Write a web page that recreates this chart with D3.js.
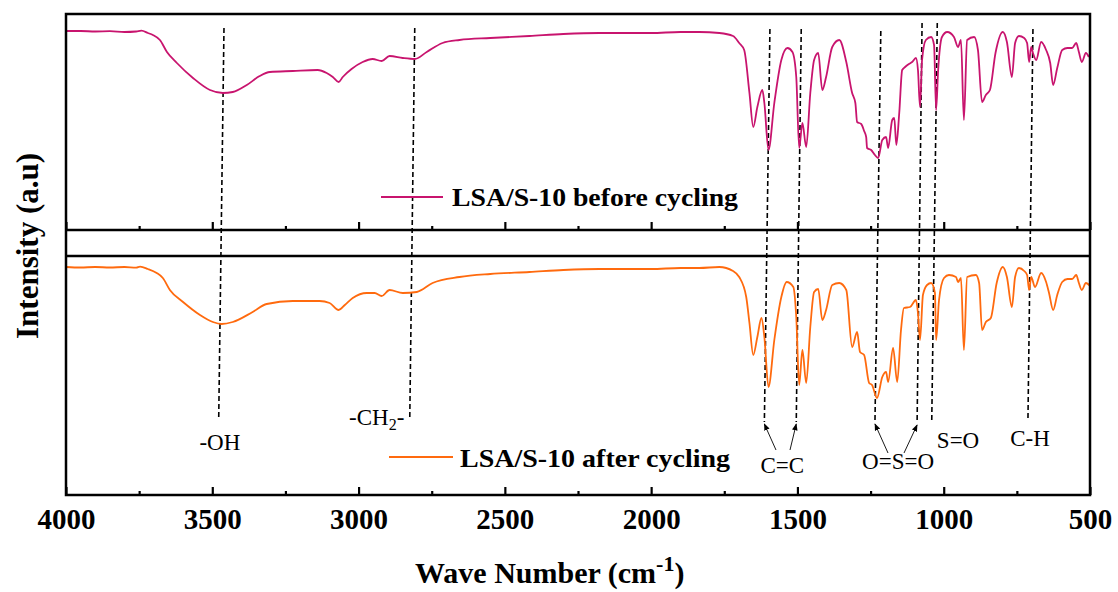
<!DOCTYPE html>
<html>
<head>
<meta charset="utf-8">
<script src="https://cdn.jsdelivr.net/npm/d3@7"></script>
<style>
  body { margin: 0; background: #fff; }
  svg { display: block; font-family: 'Liberation Serif', 'Times New Roman', serif; }
</style>
</head>
<body>
<div id="chart"></div>
<script>
// wavenumber (cm-1) / intensity (a.u.)
const beforeWn = [4000, 3950, 3900, 3850, 3800, 3760, 3742, 3720, 3703, 3679, 3655, 3621, 3566, 3508, 3464, 3430, 3382, 3338, 3303, 3225, 3140, 3109, 3088, 3068, 3054, 3024, 2986, 2952, 2921, 2894, 2849, 2808, 2767, 2713, 2655, 2550, 2416, 2300, 2177, 2000, 1900, 1835, 1767, 1720, 1699, 1682, 1664, 1651, 1637, 1620, 1613, 1599, 1579, 1555, 1534, 1517, 1504, 1494, 1483, 1470, 1456, 1443, 1429, 1415, 1402, 1381, 1357, 1333, 1313, 1302, 1296, 1282, 1272, 1265, 1262, 1248, 1235, 1224, 1210, 1197, 1190, 1176, 1169, 1162, 1152, 1142, 1132, 1119, 1108, 1095, 1088, 1081, 1074, 1061, 1043, 1033, 1026, 1019, 1006, 988, 965, 951, 941, 931, 920, 896, 883, 869, 856, 842, 823, 798, 784, 767, 756, 743, 725, 715, 708, 701, 695, 684, 667, 650, 636, 626, 612, 595, 577, 561, 547, 538, 528, 514, 504];
const beforeVal = [199, 199, 198.5, 198.8, 198, 198.5, 199.3, 197, 195, 190, 178, 167, 152, 140, 137, 138, 145, 154, 158, 159, 160, 157, 153, 148, 153, 161, 168, 171, 169, 174, 172, 171, 178, 187, 190, 192, 194, 196, 197, 197, 198, 198, 197, 194, 187, 180, 137, 103, 123, 140, 127, 80, 127, 170, 182, 178, 153, 82, 107, 83, 137, 170, 177, 140, 153, 183, 190, 168, 137, 127, 108, 106, 99, 93, 82, 80, 75, 72, 90, 93, 82, 110, 112, 85, 117, 160, 163, 166, 168, 172, 160, 123, 170, 190, 193, 185, 120, 160, 193, 198, 193, 183, 190, 110, 190, 193, 180, 128, 135, 140, 177, 198, 188, 153, 187, 194, 192, 187, 168, 183, 177, 170, 188, 180, 167, 145, 162, 180, 182, 182, 187, 178, 168, 177, 173];

const afterWn = [4000, 3950, 3900, 3850, 3800, 3760, 3747, 3720, 3690, 3669, 3645, 3600, 3542, 3498, 3468, 3430, 3362, 3314, 3225, 3133, 3099, 3068, 3047, 3020, 2972, 2945, 2921, 2894, 2849, 2801, 2747, 2655, 2550, 2416, 2300, 2177, 2000, 1900, 1835, 1767, 1720, 1699, 1675, 1664, 1651, 1637, 1623, 1613, 1599, 1579, 1555, 1537, 1514, 1504, 1494, 1483, 1470, 1456, 1443, 1429, 1415, 1402, 1381, 1357, 1333, 1313, 1296, 1286, 1272, 1255, 1245, 1228, 1210, 1197, 1190, 1173, 1159, 1146, 1136, 1115, 1095, 1088, 1081, 1071, 1057, 1043, 1030, 1026, 1016, 999, 982, 958, 951, 941, 931, 920, 890, 879, 869, 856, 839, 819, 798, 784, 767, 756, 743, 725, 715, 708, 701, 688, 667, 650, 640, 626, 612, 595, 577, 561, 547, 538, 528, 514, 500];
const afterVal = [228, 227.5, 228, 227.5, 228, 227.3, 228.3, 226, 222, 217, 205, 193, 180, 173, 171, 173, 183, 191, 194, 194, 192, 185, 190, 197, 202, 202, 199, 205, 202, 203, 212, 218, 221, 223, 225, 226, 226, 227, 227, 228, 224, 218, 198, 172, 140, 158, 177, 158, 108, 155, 198, 213, 208, 178, 110, 145, 112, 168, 203, 206, 175, 185, 210, 212, 205, 148, 163, 143, 140, 112, 110, 97, 118, 123, 113, 147, 113, 165, 187, 188, 195, 182, 155, 200, 210, 212, 202, 155, 195, 217, 220, 218, 213, 217, 145, 218, 220, 212, 165, 173, 177, 212, 228, 218, 188, 218, 227, 224, 220, 205, 218, 208, 222, 213, 202, 185, 200, 213, 216, 216, 220, 212, 205, 212, 209];

const seriesNames = ['LSA/S-10 before cycling', 'LSA/S-10 after cycling'];
const seriesColors = ['#c8146e', '#ff6a0e'];

const majorTicks = [4000, 3500, 3000, 2500, 2000, 1500, 1000, 500];
const minorTicks = [3750, 3250, 2750, 2250, 1750, 1250, 750];

// assigned bands: dashed guide wavenumbers (at top / at bottom of the guide)
const bandNames = ['-OH', '-CH2-', 'C=C', 'C=C', 'O=S=O', 'O=S=O', 'S=O', 'C-H'];
const bandWnTop = [3460, 2808, 1594, 1487, 1215, 1074, 1022, 695];
const bandWnBottom = [3478, 2825, 1613, 1504, 1235, 1091, 1041, 712];

const width = 1118, height = 592;
const plot = {left: 66, right: 1090, top: 14, bottom: 495};
const panelSplit = [230, 256];

const svg = d3.select('#chart').append('svg')
  .attr('width', width)
  .attr('height', height);

const x = d3.scaleLinear().domain([4000, 500]).range([plot.left, plot.right]);
const yTop = d3.scaleLinear().domain([0, 216]).range([panelSplit[0], plot.top]);
const yBot = d3.scaleLinear().domain([0, 239]).range([plot.bottom, panelSplit[1]]);

svg.append('defs').append('marker')
  .attr('id', 'arrow')
  .attr('viewBox', '0 0 10 10')
  .attr('refX', 9).attr('refY', 5)
  .attr('markerWidth', 7).attr('markerHeight', 7)
  .attr('markerUnits', 'userSpaceOnUse')
  .attr('orient', 'auto')
  .append('path')
  .attr('d', 'M0,1 L10,5 L0,9 Z')
  .attr('fill', '#000');

// dashed guides
const guideTopY = [28, 28, 29, 29, 31, 23, 23, 29];
const guideBotY = [418, 418, 422, 422, 422, 423, 423, 418];
svg.append('g')
  .selectAll('line')
  .data(bandNames)
  .join('line')
  .attr('x1', (d, i) => x(bandWnTop[i]))
  .attr('y1', (d, i) => guideTopY[i])
  .attr('x2', (d, i) => x(bandWnBottom[i]))
  .attr('y2', (d, i) => guideBotY[i])
  .attr('stroke', '#000')
  .attr('stroke-width', 1.6)
  .attr('stroke-dasharray', '5,3');

// spectra
const line = (y) => d3.line()
  .curve(d3.curveMonotoneX)
  .x(d => x(d[0]))
  .y(d => y(d[1]));

svg.append('path')
  .datum(d3.zip(beforeWn, beforeVal))
  .attr('fill', 'none')
  .attr('stroke', seriesColors[0])
  .attr('stroke-width', 1.8)
  .attr('stroke-linejoin', 'round')
  .attr('d', line(yTop));

svg.append('path')
  .datum(d3.zip(afterWn, afterVal))
  .attr('fill', 'none')
  .attr('stroke', seriesColors[1])
  .attr('stroke-width', 1.8)
  .attr('stroke-linejoin', 'round')
  .attr('d', line(yBot));

// frame
const frame = svg.append('g').attr('fill', 'none').attr('stroke', '#000').attr('stroke-width', 2.5);
frame.append('rect')
  .attr('x', plot.left).attr('y', plot.top)
  .attr('width', plot.right - plot.left).attr('height', plot.bottom - plot.top);
panelSplit.forEach(py => frame.append('line')
  .attr('x1', plot.left).attr('x2', plot.right).attr('y1', py).attr('y2', py));

// axes: ticks point inward on the bottom axis and on the top panel's base
const tickAxis = (yPos, labels) => {
  const g = svg.append('g').attr('transform', `translate(0,${yPos})`);
  g.call(d3.axisBottom(x).tickValues(majorTicks).tickSize(-8).tickSizeOuter(0).tickPadding(13)
    .tickFormat(labels ? d3.format('d') : ''));
  g.append('g').call(d3.axisBottom(x).tickValues(minorTicks).tickSize(-4).tickSizeOuter(0).tickFormat(''))
    .call(h => h.select('.domain').remove());
  g.select('.domain').remove();
  g.selectAll('line').attr('stroke', '#000').attr('stroke-width', 2.2);
  g.selectAll('text')
    .attr('font-family', "'Liberation Serif', 'Times New Roman', serif")
    .attr('font-size', 29)
    .attr('font-weight', 'bold')
    .attr('fill', '#000');
};
tickAxis(panelSplit[0], false);
tickAxis(plot.bottom, true);

// axis titles
const xTitle = svg.append('text')
  .attr('x', 415).attr('y', 583)
  .attr('font-size', 30).attr('font-weight', 'bold')
  .text('Wave Number (cm');
xTitle.append('tspan').attr('dy', -12).attr('font-size', 22).text('-1');
xTitle.append('tspan').attr('dy', 12).text(')');

svg.append('text')
  .attr('transform', 'translate(38,246) rotate(-90)')
  .attr('text-anchor', 'middle')
  .attr('font-size', 31).attr('font-weight', 'bold')
  .text('Intensity (a.u)');

// legends
const legendPos = [{x1: 381, x2: 443, y: 197, tx: 452, ty: 206, w: 286},
                   {x1: 389, x2: 453, y: 457, tx: 460, ty: 467, w: 270}];
seriesNames.forEach((name, i) => {
  const p = legendPos[i];
  svg.append('line')
    .attr('x1', p.x1).attr('x2', p.x2).attr('y1', p.y).attr('y2', p.y)
    .attr('stroke', seriesColors[i]).attr('stroke-width', 1.8);
  svg.append('text')
    .attr('x', p.tx).attr('y', p.ty)
    .attr('font-size', 25).attr('font-weight', 'bold')
    .attr('textLength', p.w).attr('lengthAdjust', 'spacingAndGlyphs')
    .text(name);
});

// band labels
const labelWn = {'-OH': 3474, '-CH2-': 2938, 'C=C': 1552, 'O=S=O': 1156, 'S=O': 951, 'C-H': 705};
const labelY = {'-OH': 450, '-CH2-': 425, 'C=C': 473, 'O=S=O': 469, 'S=O': 448, 'C-H': 446};
const labels = svg.append('g').attr('font-size', 23).attr('text-anchor', 'middle');
Array.from(new Set(bandNames)).forEach(name => {
  const t = labels.append('text').attr('x', x(labelWn[name])).attr('y', labelY[name]);
  if (name === '-CH2-') {
    t.text('-CH');
    t.append('tspan').attr('dy', 5).attr('font-size', 16).text('2');
    t.append('tspan').attr('dy', -5).text('-');
  } else {
    t.text(name);
  }
});

// arrows from the C=C and O=S=O labels up to their guides
const arrowPairs = [{name: 'C=C', idx: [2, 3], tail: [[776, 450], [790, 450]]},
                    {name: 'O=S=O', idx: [4, 5], tail: [[888, 453], [904, 453]]}];
arrowPairs.forEach(a => {
  a.idx.forEach((gi, k) => {
    svg.append('line')
      .attr('x1', a.tail[k][0]).attr('y1', a.tail[k][1])
      .attr('x2', x(bandWnBottom[gi])).attr('y2', guideBotY[gi] + 2)
      .attr('stroke', '#000').attr('stroke-width', 0.9)
      .attr('marker-end', 'url(#arrow)');
  });
});
</script>
</body>
</html>
